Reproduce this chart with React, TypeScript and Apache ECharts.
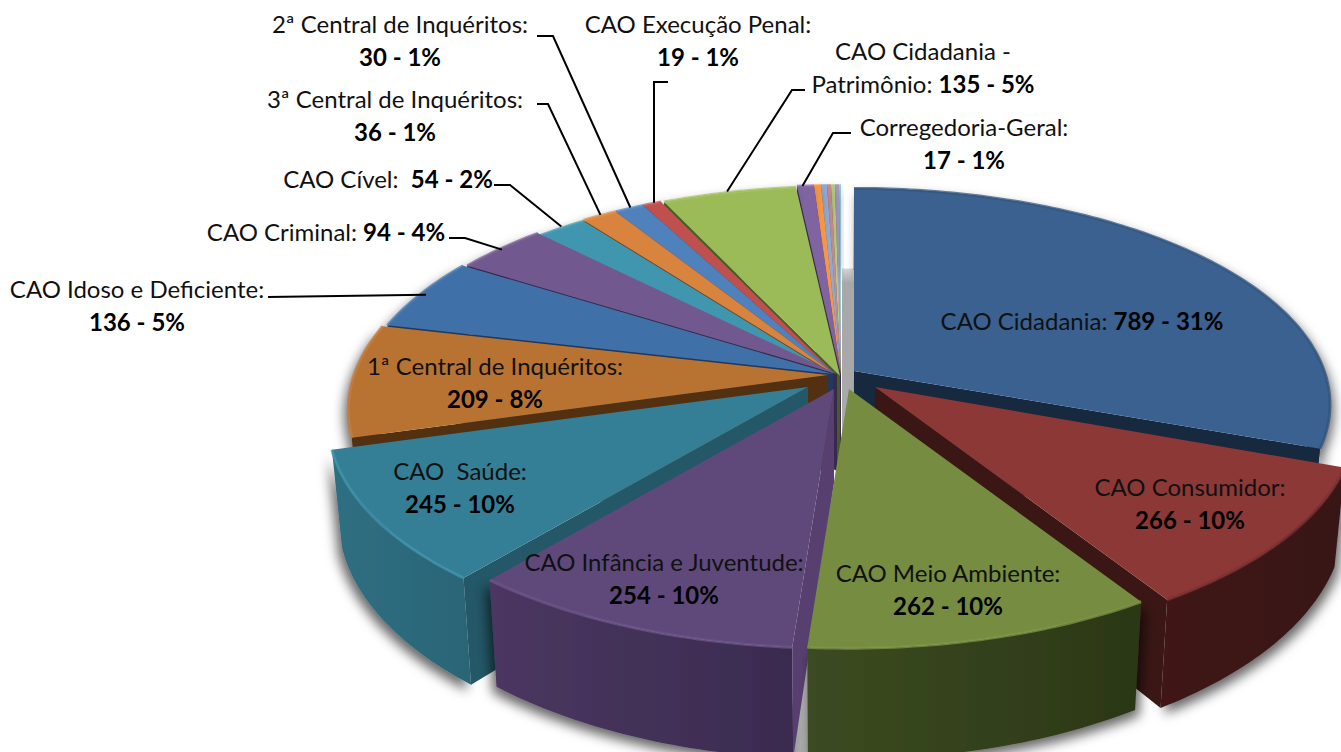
import React, { useEffect, useRef } from "react";
import * as echarts from "echarts";

// ---- data ----
const names = [
  "CAO Cidadania", "CAO Consumidor", "CAO Meio Ambiente", "CAO Infância e Juventude", "CAO  Saúde",
  "1ª Central de Inquéritos", "CAO Idoso e Deficiente", "CAO Criminal", "CAO Cível", "3ª Central de Inquéritos",
  "2ª Central de Inquéritos", "CAO Execução Penal", "CAO Cidadania - Patrimônio", "Corregedoria-Geral",
  "Outros 1", "Outros 2", "Outros 3", "Outros 4", "Outros 5", "Outros 6",
];
const values = [789, 266, 262, 254, 245, 209, 136, 94, 54, 36, 30, 19, 135, 17, 7, 6, 4, 4, 4, 2];
const percents = [31, 10, 10, 10, 10, 8, 5, 4, 2, 1, 1, 1, 5, 1];

// ---- styles and layout ----
const topColors = ["#3a6190", "#8c3836", "#758c41", "#5f497a", "#357f96", "#b87333", "#4070a8", "#71588f", "#3f96ae", "#d9843e", "#4f81bd", "#c0504d", "#9bbb59", "#8064a2", "#f79646", "#8eaad4", "#cb8c8a", "#b5cc84", "#a798c0", "#8ed0e0"];
const rimColors = ["#33557f", "#7a2f2d", "#7f9648", "#6d5589", "#3f93ac", "#c98040", "#4a7bb4", "#7c6398", "#46a0b8", "#e09048", "#5a8cc8", "#c85a57", "#a5c563", "#8a6eac", "#f79646", "#8eaad4", "#cb8c8a", "#b5cc84", "#a798c0", "#8ed0e0"];
const wallColors = ["#16293f", "#3a1715", "#2b3717", "#57406f", "#245767", "#53300f", "#1f3a5c", "#38284c", "#2a3a3a", "#7a4310", "#223f66", "#5e2422", "#4a5c26", "#3a2a50", "#7a4a20", "#556688", "#775050", "#667744", "#554a66", "#558090"];
const sideStart = ["#1d3450", "#3f1917", "#3c4b21", "#4a3760", "#2f6f82", "#53300f", "#1f3a5c", "#38284c", "#1f5a6a", "#7a4310", "#223f66", "#5e2422", "#4a5c26", "#3a2a50", "#7a4a20", "#556688", "#775050", "#667744", "#554a66", "#558090"];
const sideEnd = ["#16293f", "#381614", "#2b3717", "#3b2b50", "#2a6576", "#53300f", "#1f3a5c", "#38284c", "#1f5a6a", "#7a4310", "#223f66", "#5e2422", "#4a5c26", "#3a2a50", "#7a4a20", "#556688", "#775050", "#667744", "#554a66", "#558090"];
const offsets = [[16, -4], [37, 12], [11, 14], [-4, 14], [-30, 12], [-10, 0], [-5, -1], [-1, -1], [-1, 2], [-1, 1], [-1, 1], [-1, 1], [2, 1], [3, 0], [3, 0], [3, 0], [3, 0], [3, 0], [3, 0], [3, 0]];
const flatten = [0.963, 1, 1, 1, 1, 1, 1, 1, 1, 1, 1, 1, 1, 1, 1, 1, 1, 1, 1, 1];
const narrow = [0.992, 1, 1, 1, 1, 1, 1, 1, 1, 1, 1, 1, 1, 1, 1, 1, 1, 1, 1, 1];
const drawOrder = [0, 19, 18, 17, 16, 15, 14, 13, 12, 11, 10, 9, 8, 7, 6, 5, 1, 4, 3, 2];

const CX = 838, CY = 375, RX = 474, RY = 219, K = 0.155, DEPTH = 94, SHRINK = 0.98;
const total = values.reduce((a, b) => a + b, 0);
const starts: number[] = [];
values.reduce((acc, v, i) => { starts[i] = acc; return acc + v; }, 0);
const ang = (v: number) => (v / total) * Math.PI * 2;

function top(a: number, r: number, off: number[], fl = 1, nw = 1) {
  const u = r * Math.sin(a), v = -r * Math.cos(a), w = 1 / (1 - K * v);
  return [CX + RX * nw * u * w + off[0], CY + RY * fl * v * w + off[1]];
}
function bottom(a: number, r: number, off: number[], fl = 1, nw = 1) {
  const p = top(a, r, off, fl, nw);
  const v = -r * Math.cos(a), w = 1 / (1 - K * v);
  return [CX + (p[0] - CX) * SHRINK, p[1] + DEPTH * w];
}
function arc(fn: typeof top, a0: number, a1: number, off: number[], fl: number, nw: number) {
  const n = Math.max(2, Math.ceil(((a1 - a0) * 180) / Math.PI));
  const pts: number[][] = [];
  for (let i = 0; i <= n; i++) pts.push(fn(a0 + ((a1 - a0) * i) / n, 1, off, fl, nw));
  return pts;
}
const poly = (points: number[][], style: any) => ({ type: "polygon", shape: { points }, style });

function renderSlice(params: any, api: any) {
  const i = api.value(0) as number;
  const off = offsets[i];
  const fl = flatten[i];
  const nw = narrow[i];
  const a0 = ang(starts[i]);
  const a1 = ang(starts[i] + values[i]);
  const apex = top(0, 0, off, fl, nw);
  const apexB = bottom(0, 0, off, fl, nw);
  const topArc = arc(top, a0, a1, off, fl, nw);
  const botArc = arc(bottom, a0, a1, off, fl, nw);
  const children: any[] = [];
  const wallAngle = a1 <= Math.PI ? a1 : a0;
  children.push(
    poly([...topArc, ...botArc.slice().reverse()], {
      fill: new echarts.graphic.LinearGradient(0, 0, 1, 0, [
        { offset: 0, color: sideStart[i] },
        { offset: 1, color: sideEnd[i] },
      ]),
      shadowBlur: 12,
      shadowColor: "rgba(0,0,0,0.6)",
      shadowOffsetX: i <= 2 ? 4 : -4,
      shadowOffsetY: 6,
    })
  );
  if (i !== 2) {
    children.push(poly([apex, top(wallAngle, 1, off, fl, nw), bottom(wallAngle, 1, off, fl, nw), apexB], { fill: wallColors[i] }));
  }
  children.push(poly([apex, ...topArc], { fill: topColors[i] }));
  children.push({
    type: "polyline",
    shape: { points: topArc },
    style: { fill: "none", stroke: rimColors[i], lineWidth: 3, opacity: 0.75 },
  });
  return { type: "group", children };
}

function renderGround() {
  const a = top(0, 0.5, [4, -5]);
  const b = top(0, 0.5, [17, -5]);
  const c = bottom(Math.PI * 1.01, 1, [12, 14]);
  const d = bottom(Math.PI * 1.03, 1, [-4, 14]);
  return poly([a, b, [b[0], CY + 70], c, d, [a[0], CY + 70]], {
    fill: new echarts.graphic.LinearGradient(0, 0, 0, 1, [
      { offset: 0, color: "#d8d8d8" },
      { offset: 0.03, color: "#a8a8a8" },
      { offset: 1, color: "#aaaaaa" },
    ]),
  });
}

const FONT = "Lato";
const FS = 24;
const rich = {
  n: { fontFamily: FONT, fontSize: FS, fill: "#111", lineHeight: 33 },
  b: { fontFamily: FONT, fontSize: FS, fontWeight: 700, fill: "#000", lineHeight: 33 },
};
const val = (i: number) => `${values[i]} - ${percents[i]}%`;
const labels: [number, number, number, string][] = [
  [0, 1082, 320, `{n|${names[0]}: }{b|${val(0)}}`],
  [1, 1190, 503, `{n|${names[1]}:}\n{b|${val(1)}}`],
  [2, 948, 589, `{n|${names[2]}:}\n{b|${val(2)}}`],
  [3, 664, 578, `{n|${names[3]}:}\n{b|${val(3)}}`],
  [4, 460, 487, `{n|${names[4]}:}\n{b|${val(4)}}`],
  [5, 495, 382, `{n|${names[5]}:}\n{b|${val(5)}}`],
  [6, 137, 305, `{n|${names[6]}:}\n{b|${val(6)}}`],
  [7, 326, 231, `{n|${names[7]}: }{b|${val(7)}}`],
  [8, 388, 178, `{n|${names[8]}:  }{b|${val(8)}}`],
  [9, 395, 115, `{n|${names[9]}:}\n{b|${val(9)}}`],
  [10, 400, 40, `{n|${names[10]}:}\n{b|${val(10)}}`],
  [11, 698, 40, `{n|${names[11]}:}\n{b|${val(11)}}`],
  [12, 923, 67, `{n|CAO Cidadania -}\n{n|Patrimônio: }{b|${val(12)}}`],
  [13, 964, 143, `{n|${names[13]}:}\n{b|${val(13)}}`],
];
// slice -> the free end and elbow of its leader line; the last point is the slice's rim
const leaders: [number, number[][]][] = [
  [10, [[537, 36], [553, 36]]],
  [11, [[668, 82], [654, 82]]],
  [12, [[805, 90], [792, 90]]],
  [13, [[851, 133], [833, 133]]],
  [9, [[537, 104], [548, 104]]],
  [8, [[494, 185], [510, 185]]],
  [7, [[449, 238], [465, 238]]],
  [6, [[268, 297]]],
];

export default function App() {
  const ref = useRef<HTMLDivElement>(null);
  useEffect(() => {
    document.body.style.margin = "0";
    const chart = echarts.init(ref.current!, undefined, { renderer: "svg" });
    const graphic: any[] = [];
    leaders.forEach(([i, pts]) => {
      const mid = ang(starts[i] + values[i] / 2);
      const end = i === 11 ? [pts[1][0], top(mid, 1, [0, 0])[1]] : top(mid, 1, [0, 0]);
      graphic.push({
        type: "polyline",
        z: 50,
        shape: { points: [...pts, end] },
        style: { fill: "none", stroke: "#000", lineWidth: 2 },
      });
    });
    labels.forEach(([, x, y, text]) => {
      graphic.push({
        type: "text",
        z: 60,
        x,
        y,
        style: { text, rich, align: "center", verticalAlign: "middle", fontFamily: FONT, fontSize: FS },
      });
    });
    chart.setOption({
      animation: false,
      backgroundColor: "#ffffff",
      graphic,
      series: [
        { type: "custom", coordinateSystem: "none", z: 1, silent: true, clip: false, renderItem: renderGround, data: [[0]] },
        {
          type: "custom",
          coordinateSystem: "none",
          z: 2,
          silent: true,
          renderItem: renderSlice,
          encode: { value: 0 },
          dimensions: ["slice", "value"],
          data: drawOrder.map((i) => [i, values[i]]),
        },
      ],
    });
    return () => chart.dispose();
  }, []);
  return <div ref={ref} style={{ position: "absolute", left: 0, top: 0, width: 1341, height: 752 }} />;
}
